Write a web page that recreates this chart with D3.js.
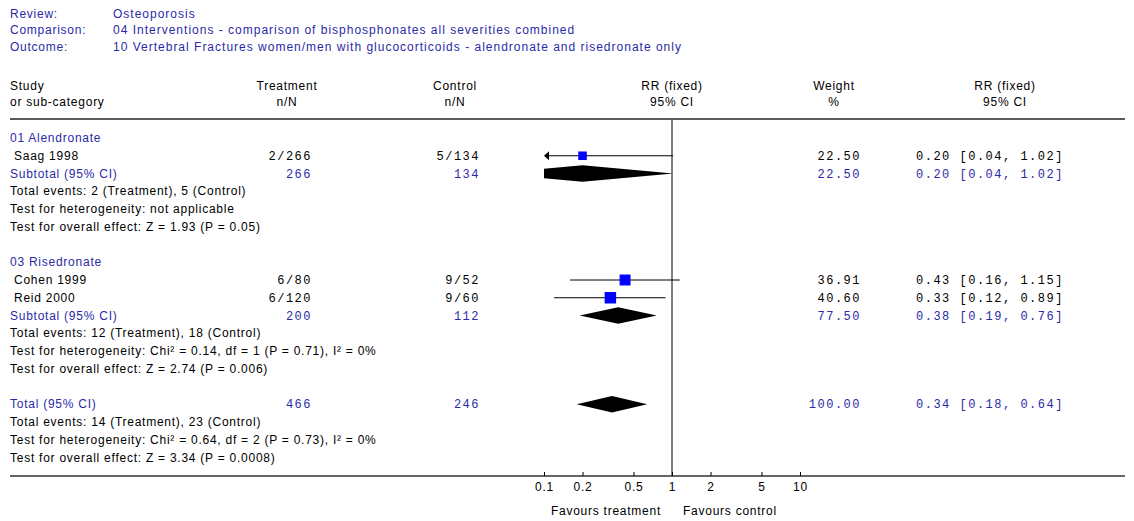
<!DOCTYPE html>
<html>
<head>
<meta charset="utf-8">
<script src="https://cdn.jsdelivr.net/npm/d3@7"></script>
<style>
  html, body { margin: 0; padding: 0; background: #fff; }
  svg { display: block; }
  .sans { font-family: "Liberation Sans", Arial, sans-serif; font-size: 12px; letter-spacing: 0.75px; }
  .hval { letter-spacing: 1px; }
  .mono { font-family: "Liberation Mono", "Courier New", monospace; font-size: 12px; letter-spacing: 1.5px; }
</style>
</head>
<body>
<svg id="chart" width="1134" height="521"></svg>
<script>
// ---------- data ----------
const headerKeys = ["Review:", "Comparison:", "Outcome:"];
const headerValues = [
  "Osteoporosis",
  "04 Interventions - comparison of bisphosphonates all severities combined",
  "10 Vertebral Fractures women/men with glucocorticoids - alendronate and risedronate only"
];

const groupNames = ["01 Alendronate", "03 Risedronate"];
const groupTreatN = ["266", "200"];
const groupControlN = ["134", "112"];
const groupWeight = ["22.50", "77.50"];
const groupRR = [0.20, 0.38];
const groupLo = [0.04, 0.19];
const groupHi = [1.02, 0.76];
const groupNotes = [
  ["Total events: 2 (Treatment), 5 (Control)",
   "Test for heterogeneity: not applicable",
   "Test for overall effect: Z = 1.93 (P = 0.05)"],
  ["Total events: 12 (Treatment), 18 (Control)",
   "Test for heterogeneity: Chi\u00b2 = 0.14, df = 1 (P = 0.71), I\u00b2 = 0%",
   "Test for overall effect: Z = 2.74 (P = 0.006)"]
];

const studyNames = ["Saag 1998", "Cohen 1999", "Reid 2000"];
const studyGroup = [0, 1, 1];
const studyTreat = ["2/266", "6/80", "6/120"];
const studyControl = ["5/134", "9/52", "9/60"];
const studyWeight = [22.50, 36.91, 40.60];
const studyRR = [0.20, 0.43, 0.33];
const studyLo = [0.04, 0.16, 0.12];
const studyHi = [1.02, 1.15, 0.89];

const totalLabel = "Total (95% CI)";
const totalTreatN = "466";
const totalControlN = "246";
const totalWeight = "100.00";
const totalRR = 0.34, totalLo = 0.18, totalHi = 0.64;
const totalNotes = [
  "Total events: 14 (Treatment), 23 (Control)",
  "Test for heterogeneity: Chi\u00b2 = 0.64, df = 2 (P = 0.73), I\u00b2 = 0%",
  "Test for overall effect: Z = 3.34 (P = 0.0008)"
];

const axisTicks = [0.1, 0.2, 0.5, 1, 2, 5, 10];
const favourLeft = "Favours treatment";
const favourRight = "Favours control";

// ---------- layout ----------
const BLUE = "#2a2aa8";
const SQ = "#0000ff";
const svg = d3.select("#chart");

const x = d3.scaleLog().domain([0.1, 10]).range([544, 800]);
const rowY = i => 138 + 17.75 * i;
const sizeScale = d3.scaleSqrt().domain([0, 100]).range([0, 18]);
const fmtCI = (r, l, h) => `${r.toFixed(2)} [${l.toFixed(2)}, ${h.toFixed(2)}]`;

const colTreat = 312, colCtrl = 480, colWeight = 861, colCI = 916;

// header block
const hdr = svg.append("g").attr("class", "sans").attr("fill", BLUE);
headerKeys.forEach((k, i) => {
  const y = 13.5 + 16.75 * i;
  hdr.append("text").attr("x", 10).attr("y", y).attr("dy", "0.35em").text(k);
  hdr.append("text").attr("class", "hval").attr("x", 113).attr("y", y).attr("dy", "0.35em").text(headerValues[i]);
});

// column headers
const ch = svg.append("g").attr("class", "sans").attr("fill", "#000");
const colHead = [
  [10, "start", "Study", "or sub-category"],
  [287, "middle", "Treatment", "n/N"],
  [455, "middle", "Control", "n/N"],
  [672, "middle", "RR (fixed)", "95% CI"],
  [834, "middle", "Weight", "%"],
  [1005, "middle", "RR (fixed)", "95% CI"]
];
colHead.forEach(([cx, anchor, a, b]) => {
  ch.append("text").attr("x", cx).attr("y", 86).attr("dy", "0.35em").attr("text-anchor", anchor).text(a);
  ch.append("text").attr("x", cx).attr("y", 102).attr("dy", "0.35em").attr("text-anchor", anchor).text(b);
});

// lines
svg.append("line").attr("x1", 10).attr("x2", 1125).attr("y1", 119).attr("y2", 119)
  .attr("stroke", "#5a5a5a").attr("stroke-width", 2);
const axisY = 476;
svg.append("line").attr("x1", x(1)).attr("x2", x(1)).attr("y1", 120).attr("y2", axisY)
  .attr("stroke", "#000").attr("stroke-width", 1);

// rows
const rows = [];
let r = 0;
groupNames.forEach((g, gi) => {
  rows.push({type: "group", i: r++, gi});
  studyNames.forEach((s, si) => { if (studyGroup[si] === gi) rows.push({type: "study", i: r++, si}); });
  rows.push({type: "subtotal", i: r++, gi});
  groupNotes[gi].forEach(n => rows.push({type: "note", i: r++, text: n}));
  r++;
});
rows.push({type: "total", i: r++});
totalNotes.forEach(n => rows.push({type: "note", i: r++, text: n}));

svg.append("clipPath").attr("id", "plotclip")
  .append("rect").attr("x", x(0.1)).attr("y", 0).attr("width", x(10) - x(0.1)).attr("height", 521);

const textG = svg.append("g");
const markG = svg.append("g");

function sans(xp, y, t, fill, anchor) {
  textG.append("text").attr("class", "sans").attr("x", xp).attr("y", y).attr("dy", "0.35em")
    .attr("fill", fill).attr("text-anchor", anchor || "start").text(t);
}
function mono(xp, y, t, fill, anchor) {
  textG.append("text").attr("class", "mono").attr("x", xp).attr("y", y).attr("dy", "0.35em")
    .attr("fill", fill).attr("text-anchor", anchor || "start").text(t);
}
function diamond(y, rr, lo, hi) {
  const h = 8.3;
  const pts = [[x(lo), y], [x(rr), y - h], [x(hi), y], [x(rr), y + h]];
  markG.append("path").attr("d", d3.line()(pts) + "Z").attr("fill", "#000")
    .attr("clip-path", "url(#plotclip)");
}

rows.forEach(row => {
  const y = rowY(row.i);
  if (row.type === "group") {
    sans(10, y, groupNames[row.gi], BLUE);
  } else if (row.type === "study") {
    const s = row.si;
    sans(14, y, studyNames[s], "#000");
    mono(colTreat, y, studyTreat[s], "#000", "end");
    mono(colCtrl, y, studyControl[s], "#000", "end");
    mono(colWeight, y, studyWeight[s].toFixed(2), "#000", "end");
    mono(colCI, y, fmtCI(studyRR[s], studyLo[s], studyHi[s]), "#000");
    const lo = Math.max(studyLo[s], 0.1), hi = Math.min(studyHi[s], 10);
    const xl = x(lo) + (studyLo[s] < 0.1 ? 4 : 0);
    markG.append("line").attr("x1", xl).attr("x2", x(hi)).attr("y1", y).attr("y2", y)
      .attr("stroke", "#000").attr("stroke-width", 1);
    if (studyLo[s] < 0.1) {
      markG.append("path").attr("d", `M${x(0.1)},${y}L${x(0.1) + 5},${y - 4.5}L${x(0.1) + 5},${y + 4.5}Z`)
        .attr("fill", "#000");
    }
    const sz = sizeScale(studyWeight[s]);
    markG.append("rect").attr("x", x(studyRR[s]) - sz / 2).attr("y", y - sz / 2)
      .attr("width", sz).attr("height", sz).attr("fill", SQ);
  } else if (row.type === "subtotal") {
    const g = row.gi;
    sans(10, y, "Subtotal (95% CI)", BLUE);
    mono(colTreat, y, groupTreatN[g], BLUE, "end");
    mono(colCtrl, y, groupControlN[g], BLUE, "end");
    mono(colWeight, y, groupWeight[g], BLUE, "end");
    mono(colCI, y, fmtCI(groupRR[g], groupLo[g], groupHi[g]), BLUE);
    diamond(y, groupRR[g], groupLo[g], groupHi[g]);
  } else if (row.type === "total") {
    sans(10, y, totalLabel, BLUE);
    mono(colTreat, y, totalTreatN, BLUE, "end");
    mono(colCtrl, y, totalControlN, BLUE, "end");
    mono(colWeight, y, totalWeight, BLUE, "end");
    mono(colCI, y, fmtCI(totalRR, totalLo, totalHi), BLUE);
    diamond(y, totalRR, totalLo, totalHi);
  } else {
    sans(10, y, row.text, "#000");
  }
});

// bottom axis
svg.append("line").attr("x1", 10).attr("x2", 1125).attr("y1", axisY).attr("y2", axisY)
  .attr("stroke", "#333").attr("stroke-width", 1.5);
const axis = d3.axisTop(x).tickValues(axisTicks).tickSize(4).tickFormat(d3.format("~g"));
const ag = svg.append("g").attr("transform", `translate(0,${axisY})`).call(axis);
ag.select(".domain").remove();
ag.selectAll(".tick line").attr("stroke", "#000");
ag.selectAll(".tick text").attr("class", "sans").attr("font-size", null).attr("font-family", null)
  .attr("fill", "#000").attr("y", 11).attr("dy", "0.35em");
svg.append("text").attr("class", "sans").attr("x", 661).attr("y", 511).attr("dy", "0.35em")
  .attr("text-anchor", "end").text(favourLeft);
svg.append("text").attr("class", "sans").attr("x", 683).attr("y", 511).attr("dy", "0.35em")
  .text(favourRight);
</script>
</body>
</html>
